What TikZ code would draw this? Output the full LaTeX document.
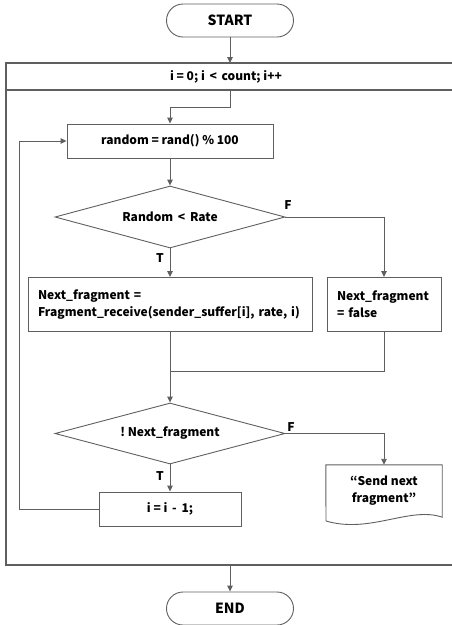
\documentclass[tikz,border=0pt]{standalone}
\usepackage{fontspec}
\setmainfont{Noto Sans CJK KR}
\usetikzlibrary{arrows.meta,shapes.geometric}
\definecolor{linegray}{RGB}{95,95,95}
\newcommand\flowfont{\fontsize{12}{17}\selectfont\bfseries}
\newcommand\termfont{\fontsize{14}{17}\selectfont\bfseries}
\begin{document}
\begin{tikzpicture}[x=1pt,y=-1pt,
  line/.style={draw=linegray,line width=0.9pt},
  arr/.style={line,-{Triangle[length=6pt,width=5.5pt]}},
  frame/.style={draw=linegray,line width=1.1pt},
  term/.style={draw=linegray,line width=0.9pt,rectangle,rounded corners=16.5pt,
    minimum width=127pt,minimum height=33pt,inner sep=0pt,font=\termfont},
  procbox/.style={draw=linegray,line width=0.9pt,rectangle,inner sep=0pt,font=\flowfont},
  textbox/.style={draw=linegray,line width=0.9pt,rectangle,inner xsep=10pt,inner ysep=0pt,
    align=left,font=\flowfont},
  decision/.style={draw=linegray,line width=0.9pt,diamond,aspect=3.7,inner sep=0pt,
    minimum width=230pt,minimum height=62pt,font=\flowfont},
  lbl/.style={font=\flowfont,inner sep=0pt}]
\useasboundingbox (0,0) rectangle (451,625);

% start / end terminals
\node[term] (start) at (230,20.5) {START};
\node[term] (end) at (230,608.5) {END};

% loop frame with its header band
\draw[frame] (452,63) -- (6,63) -- (6,565) -- (452,565);
\draw[frame] (6,90) -- (452,90);
\node[lbl] (hdr) at (226,76.5) {i = 0;\ i \,<\, count;\ i++};
\coordinate (ftop) at (230,63);
\coordinate (fhead) at (230,90);
\coordinate (fbot) at (230,565);

% loop body
\node[procbox,minimum width=206pt,minimum height=34pt] (rnd) at (170,141) {random = rand() \% 100};
\node[decision] (d1) at (170,217) {Random \,<\, Rate};
\node[textbox,minimum height=54pt,text width=264pt] (nbox) at (170,304.5)
  {Next\_fragment =\\Fragment\_receive(sender\_suffer[i], rate, i)};
\node[textbox,minimum height=54pt,text width=94pt] (fbox) at (384,304.5)
  {Next\_fragment\\= false};
\coordinate (join) at (170,371);
\node[decision,minimum height=61pt] (d2) at (170,433.5) {!\ Next\_fragment};
\node[procbox,minimum width=142pt,minimum height=34pt] (ibox) at (170,509) {i = i \,-\, 1;};
\coordinate (back) at (19,509);

% output document
\node[lbl,align=center,minimum width=116pt,minimum height=52pt] (doc) at (384,491)
  {“Send next\\fragment”};
\draw[line] (doc.north west) -- (doc.north east) -- (doc.south east)
  .. controls (410,506) and (370,534) .. (326,521) -- cycle;

% branch labels
\node[lbl] (f1) at (288,205) {F};
\node[lbl] (t1) at (160,258) {T};
\node[lbl] (f2) at (291,427) {F};
\node[lbl] (t2) at (160,476) {T};

% connectors
\draw[arr] (start) -- (ftop);
\draw[arr] (fhead) -- ++(0,17) -| (rnd.north);
\draw[arr] (rnd) -- (d1);
\draw[arr] (d1.east) -| (fbox.north);
\draw[arr] (d1) -- (nbox);
\draw[line] (fbox.south) |- (join);
\draw[arr] (nbox.south) -- (d2.north);
\draw[arr] (d2.east) -| (doc.north);
\draw[arr] (d2) -- (ibox);
\draw[arr] (ibox.west) -- (back) |- (rnd.west);
\draw[arr] (fbot) -- (end);
\end{tikzpicture}
\end{document}
